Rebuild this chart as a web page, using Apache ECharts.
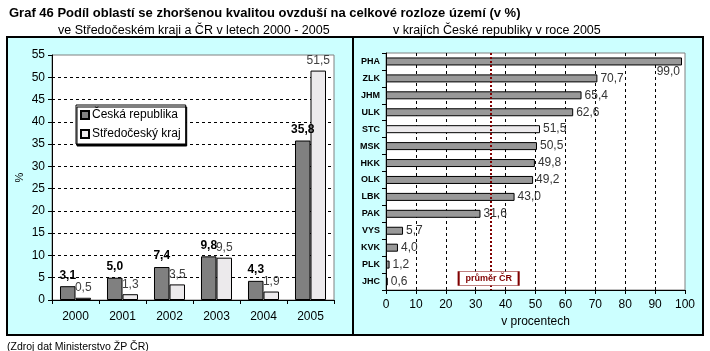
<!DOCTYPE html>
<html><head><meta charset="utf-8">
<script src="https://cdn.jsdelivr.net/npm/echarts@6/dist/echarts.min.js"></script>
<style>html,body{margin:0;padding:0;background:#fff}#c{width:710px;height:351px}</style>
</head><body><div id="c"></div>
<script>
const years = ['2000','2001','2002','2003','2004','2005'];
const czValues = [3.1, 5.0, 7.4, 9.8, 4.3, 35.8];
const stcValues = [0.5, 1.3, 3.5, 9.5, 1.9, 51.5];
const regions = ['PHA','ZLK','JHM','ULK','STC','MSK','HKK','OLK','LBK','PAK','VYS','KVK','PLK','JHC'];
const regionValues = [99.0, 70.7, 65.4, 62.6, 51.5, 50.5, 49.8, 49.2, 43.0, 31.6, 5.7, 4.0, 1.2, 0.6];
const avgValue = 35.0;
const avgLabel = 'průměr ČR';
const leftTicks = [0,5,10,15,20,25,30,35,40,45,50,55];
const rightTicks = [0,10,20,30,40,50,60,70,80,90,100];

const F = 'Arial, "Liberation Sans", sans-serif';
const fmt = v => v.toFixed(1).replace('.', ',');
const C_CZ = '#808080', C_STC = '#ECEAEC', C_REG = '#999999';

const chart = echarts.init(document.getElementById('c'));
chart.setOption({
  animation: false,
  backgroundColor: '#fff',
  textStyle: {fontFamily: F},
  title: [
    {text: 'Graf 46 Podíl oblastí se zhoršenou kvalitou ovzduší na celkové rozloze území (v %)', left: 4, top: 2,
     textStyle: {fontSize: 13, fontWeight: 'bold', color: '#000', fontFamily: F}},
    {text: 've Středočeském kraji a ČR v letech 2000 - 2005', left: 53, top: 19,
     textStyle: {fontSize: 12.5, fontWeight: 'normal', color: '#000', fontFamily: F}},
    {text: 'v krajích České republiky v roce 2005', left: 388, top: 19,
     textStyle: {fontSize: 12.5, fontWeight: 'normal', color: '#000', fontFamily: F}},
    {text: '(Zdroj dat Ministerstvo ŽP ČR)', left: 2, top: 337,
     textStyle: {fontSize: 10.5, fontWeight: 'normal', color: '#000', fontFamily: F}}
  ],
  graphic: [
    {type: 'rect', z: -10, shape: {x: 7, y: 37, width: 346, height: 298}, style: {fill: '#CCFFFF', stroke: '#000', lineWidth: 2}},
    {type: 'rect', z: -10, shape: {x: 353, y: 37, width: 350, height: 298}, style: {fill: '#CCFFFF', stroke: '#000', lineWidth: 2}}
  ],
  legend: {
    data: ['Česká republika', 'Středočeský kraj'],
    orient: 'vertical', left: 76, top: 105,
    backgroundColor: '#fff', borderColor: '#000', borderWidth: 1,
    shadowColor: '#000', shadowOffsetX: 1, shadowOffsetY: 2, shadowBlur: 0,
    padding: [4, 5, 4, 4], itemWidth: 8, itemHeight: 8, itemGap: 7,
    icon: 'rect',
    textStyle: {fontSize: 12, color: '#000', fontFamily: F, padding: [0, 0, 0, -2]}
  },
  grid: [
    {left: 52, right: 376, top: 55, bottom: 51, show: true, backgroundColor: '#fff', borderColor: '#808080', borderWidth: 1},
    {left: 386, right: 25, top: 53, bottom: 61, show: true, backgroundColor: '#fff', borderColor: '#808080', borderWidth: 1}
  ],
  xAxis: [
    {gridIndex: 0, type: 'category', data: years,
     axisLine: {lineStyle: {color: '#000'}},
     axisTick: {show: true, length: 4, lineStyle: {color: '#000'}},
     axisLabel: {fontSize: 12, color: '#000', margin: 11, fontFamily: F}},
    {gridIndex: 1, type: 'value', min: rightTicks[0], max: rightTicks[rightTicks.length-1], interval: 10,
     axisLine: {show: true, lineStyle: {color: '#000'}},
     axisTick: {show: true, length: 4, lineStyle: {color: '#000'}},
     axisLabel: {fontSize: 12, color: '#000', margin: 9, fontFamily: F},
     splitLine: {show: true, lineStyle: {type: [3, 3], color: ['transparent','#000','#000','#000','#000','#000','#000','#000','#000','#000','transparent']}},
     name: 'v procentech', nameLocation: 'middle', nameGap: 25,
     nameTextStyle: {fontSize: 12, color: '#000', fontFamily: F}}
  ],
  yAxis: [
    {gridIndex: 0, type: 'value', min: leftTicks[0], max: leftTicks[leftTicks.length-1], interval: 5,
     axisLine: {show: true, lineStyle: {color: '#000'}},
     axisTick: {show: true, length: 4, lineStyle: {color: '#000'}},
     axisLabel: {fontSize: 12, color: '#000', margin: 7, fontFamily: F},
     splitLine: {show: true, lineStyle: {type: [3, 3], color: ['transparent','#000','#000','#000','#000','#000','#000','#000','#000','#000','#000','transparent']}},
     name: '%', nameLocation: 'middle', nameGap: 27, nameRotate: 90,
     nameTextStyle: {fontSize: 11, color: '#000', fontFamily: F}},
    {gridIndex: 1, type: 'category', data: regions, inverse: true,
     axisLine: {show: true, lineStyle: {color: '#000'}},
     axisTick: {show: true, length: 4, lineStyle: {color: '#000'}},
     axisLabel: {fontSize: 9, fontWeight: 'bold', color: '#000', margin: 6, fontFamily: F}}
  ],
  series: [
    {name: 'Česká republika', type: 'bar', xAxisIndex: 0, yAxisIndex: 0, data: czValues,
     barGap: '0%', barCategoryGap: '34%',
     itemStyle: {color: C_CZ, borderColor: '#000', borderWidth: 1},
     label: {show: true, position: 'top', distance: 5, formatter: p => fmt(p.value),
             fontSize: 12, fontWeight: 'bold', color: '#000', fontFamily: F}},
    {name: 'Středočeský kraj', type: 'bar', xAxisIndex: 0, yAxisIndex: 0, data: stcValues,
     barGap: '0%', barCategoryGap: '34%',
     itemStyle: {color: C_STC, borderColor: '#000', borderWidth: 1},
     label: {show: true, position: 'top', distance: 4, formatter: p => fmt(p.value),
             fontSize: 12, color: '#404040', fontFamily: F}},
    {name: 'kraje', type: 'bar', xAxisIndex: 1, yAxisIndex: 1, barWidth: 8,
     data: regionValues.map((v, i) => {
       const d = {value: v, itemStyle: {color: regions[i] === 'STC' ? C_STC : C_REG}};
       if (v > 95) d.label = {position: 'insideBottomRight', offset: [0, 14], distance: 2};
       return d;
     }),
     itemStyle: {borderColor: '#000', borderWidth: 1},
     label: {show: true, position: 'right', distance: 3, formatter: p => fmt(p.value),
             fontSize: 12, color: '#333', fontFamily: F},
     markLine: {silent: true, symbol: 'none', label: {show: false},
       lineStyle: {type: [2, 2], color: '#800000', width: 2},
       data: [{xAxis: avgValue}]},
     markPoint: {silent: true, symbol: 'rect', symbolSize: [60, 14], symbolOffset: [-2, -3],
       itemStyle: {color: '#fff', borderColor: '#800000', borderWidth: 1},
       label: {show: true, formatter: avgLabel, color: '#800000', fontSize: 9, fontWeight: 'bold', fontFamily: F},
       data: [{coord: [avgValue, 'JHC']}]}}
  ]
});
</script></body></html>
